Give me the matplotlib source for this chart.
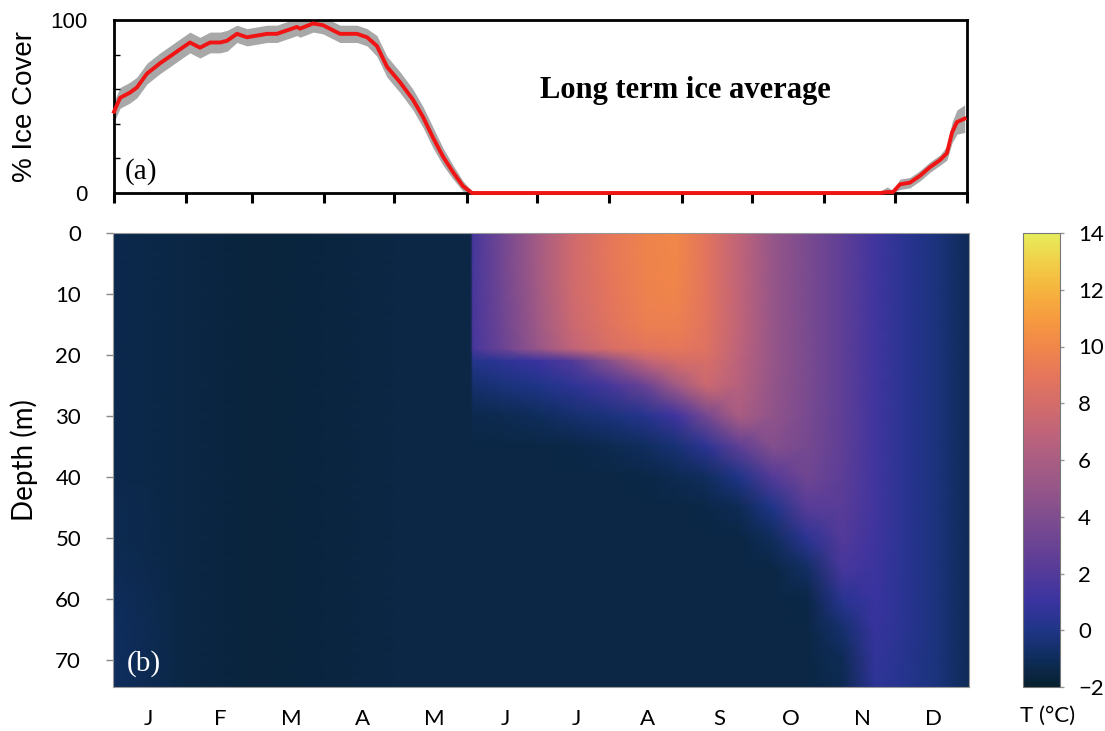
import numpy as np
import matplotlib
matplotlib.use("Agg")
import matplotlib.pyplot as plt
from matplotlib.colors import LinearSegmentedColormap

# ---------------- data ----------------
# (a) long term ice cover, % (day of year)
ice_day = [0, 2.6, 6.8, 9.8, 14.1, 19.7, 24, 28.2, 32.5, 36.8, 41.1, 45.4, 48.4,
           52.6, 56.9, 61.2, 65.5, 69.7, 74, 78.3, 79.6, 85.2, 89.4, 96.7, 104,
           108.3, 112.5, 116.8, 122.4, 127.9, 132.2, 136.5, 140.8, 145.1, 149.3,
           153.2, 200, 260, 327.8, 330.8, 333.3, 336.3, 340.6, 344.9, 349.2,
           353.4, 356.4, 358.6, 360.7, 364]
ice_pct = [47, 55, 58, 61, 69, 75, 79, 83, 87, 84, 87, 87, 88,
           92, 90, 91, 92, 92, 94, 96, 95, 98, 97, 92, 92,
           90, 85, 73, 64, 54, 44, 32, 21, 12, 4,
           0, 0, 0, 0, 0.5, 0.5, 5, 6, 10, 15,
           19, 23, 35, 41, 43]
ice_sd = [6, 6, 6, 6, 6, 6, 6, 6, 6, 6, 6, 6, 6,
          5, 5, 5, 5, 5, 5, 5, 5, 5, 5, 5, 5,
          5, 6, 6, 6, 6, 6, 6, 5, 4, 3,
          1, 0, 0, 1, 3, 1, 3, 3, 3, 3,
          3, 4, 6, 7, 8]

# (b) temperature profiles (deg C): one profile per day, values at the depths below
depths = [0, 5, 10, 15, 19, 21, 25, 30, 35, 40, 45, 50, 55, 60, 65, 70, 74.5]
prof_day = [0, 30, 60, 90, 120, 152.5, 153.5, 166, 181, 196, 212, 227, 240,
            253, 267, 281, 296, 311, 325, 338, 352, 365]
profiles = [
    [-1.3, -1.3, -1.3, -1.3, -1.3, -1.3, -1.3, -1.3, -1.3, -1.3, -1.2, -1.2, -1.1, -1.0, -0.9, -0.9, -0.9],
    [-1.5] * 17,
    [-1.65] * 17,
    [-1.6] * 17,
    [-1.5] * 17,
    [-1.45] * 17,
    [1.5, 1.5, 1.6, 1.6, 1.5, 0.2, -0.6, -1.3, -1.5, -1.5, -1.5, -1.5, -1.5, -1.5, -1.5, -1.5, -1.5],
    [3.4, 3.4, 3.3, 3.2, 3.0, 0.5, -0.3, -1.2, -1.5, -1.5, -1.5, -1.5, -1.5, -1.5, -1.5, -1.5, -1.5],
    [5.7, 5.7, 5.6, 5.4, 5.0, 1.0, 0.0, -1.0, -1.5, -1.5, -1.5, -1.5, -1.5, -1.5, -1.5, -1.5, -1.5],
    [7.8, 7.8, 7.7, 7.5, 7.0, 2.0, 0.6, -0.6, -1.4, -1.5, -1.5, -1.5, -1.5, -1.5, -1.5, -1.5, -1.5],
    [9.0, 9.0, 8.9, 8.7, 8.2, 4.5, 1.5, -0.2, -1.2, -1.5, -1.5, -1.5, -1.5, -1.5, -1.5, -1.5, -1.5],
    [9.8, 9.8, 9.7, 9.5, 8.8, 7.0, 3.0, 0.3, -0.9, -1.4, -1.5, -1.5, -1.5, -1.5, -1.5, -1.5, -1.5],
    [10.0, 10.0, 9.9, 9.6, 9.0, 8.0, 5.5, 1.2, -0.4, -1.2, -1.5, -1.5, -1.5, -1.5, -1.5, -1.5, -1.5],
    [8.8, 8.8, 8.8, 8.7, 8.5, 8.2, 7.5, 3.5, 0.5, -0.9, -1.4, -1.5, -1.5, -1.5, -1.5, -1.5, -1.5],
    [7.0, 7.0, 7.0, 7.0, 6.9, 6.8, 6.6, 6.0, 2.5, 0.0, -1.1, -1.5, -1.5, -1.5, -1.5, -1.5, -1.5],
    [5.0, 5.0, 5.0, 5.0, 5.0, 5.0, 4.9, 4.8, 4.2, 2.0, 0.0, -1.0, -1.5, -1.5, -1.5, -1.5, -1.5],
    [3.8, 3.8, 3.8, 3.8, 3.8, 3.8, 3.8, 3.7, 3.6, 3.3, 2.2, 0.5, -0.8, -1.4, -1.5, -1.5, -1.5],
    [2.5, 2.5, 2.5, 2.5, 2.5, 2.5, 2.5, 2.5, 2.5, 2.4, 2.3, 2.0, 1.5, 0.4, -0.6, -1.1, -1.2],
    [1.3, 1.3, 1.3, 1.3, 1.3, 1.3, 1.3, 1.3, 1.3, 1.3, 1.3, 1.2, 1.1, 1.0, 0.9, 0.7, 0.6],
    [0.4, 0.4, 0.4, 0.4, 0.4, 0.4, 0.4, 0.4, 0.4, 0.4, 0.4, 0.4, 0.4, 0.4, 0.4, 0.3, 0.3],
    [-0.3] * 17,
    [-1.1] * 17,
]

month_starts = [0, 31, 59, 90, 120, 151, 181, 212, 243, 273, 304, 334, 365]
month_labels = ["J", "F", "M", "A", "M", "J", "J", "A", "S", "O", "N", "D"]
cbar_ticks = [-2, 0, 2, 4, 6, 8, 10, 12, 14]

# colour scale (thermal-like), value -> colour
cmap_vals = [-2, -1, 0, 1, 2, 3, 4, 5, 6, 7, 8, 9, 10, 11, 12, 13, 14]
cmap_cols = ["#06202e", "#0f2d5c", "#1f3588", "#3a33a0", "#533a99", "#6a4394",
             "#7f4d8e", "#965689", "#a95d82", "#c0647a", "#d46d6a", "#e6765b",
             "#f1864a", "#f69b3f", "#f6b33e", "#f1cf48", "#e6ec5c"]
cmap = LinearSegmentedColormap.from_list(
    "thermal_like", [((v + 2) / 16, c) for v, c in zip(cmap_vals, cmap_cols)])

W, H = 1105, 731
fig = plt.figure(figsize=(W / 100, H / 100), dpi=100)
ax1 = fig.add_axes([114 / W, 1 - 193 / H, 853 / W, 173 / H])
ax2 = fig.add_axes([113 / W, 1 - 687 / H, 856 / W, 454 / H])
cax = fig.add_axes([1023 / W, 1 - 687 / H, 37 / W, 454 / H])

sans = "Liberation Sans"
lato = "Lato"
serif = "Liberation Serif"

# ---------------- (a) ice cover ----------------
ice = np.array(ice_pct, dtype=float)
sd = np.array(ice_sd, dtype=float)
ax1.fill_between(ice_day, np.clip(ice - sd, 0, None), ice + sd,
                 color="#a8a8a8", lw=0)
ax1.plot(ice_day, ice, color="#f01414", lw=2.8, clip_on=False, zorder=5)
ax1.set_xlim(0, 365)
ax1.set_ylim(0, 100)
ax1.set_xticks(month_starts)
ax1.set_xticklabels([])
ax1.tick_params(axis="x", direction="out", length=7, width=2.2)
ax1.set_yticks([0, 100])
ax1.set_yticklabels(["0", "100"], fontsize=16, family=sans)
ax1.set_yticks([20, 40, 60, 80], minor=True)
ax1.tick_params(axis="y", which="major", length=0, pad=19)
ax1.tick_params(axis="y", which="minor", direction="in", length=4, width=1)
for s in ax1.spines.values():
    s.set_linewidth(2)
ax1.set_ylabel("% Ice Cover", fontsize=20, family=sans)
ax1.yaxis.set_label_coords((38 - 114) / 853, 0.5)
ax1.text(182.3, 55, "Long term ice average", fontsize=22, family=serif,
         fontweight="bold", ha="left", va="baseline")
ax1.text(0.013, 0.08, "(a)", transform=ax1.transAxes, fontsize=21,
         family=serif, ha="left", va="baseline")

# ---------------- (b) temperature section ----------------
T = np.array(profiles).T
mesh = ax2.pcolormesh(prof_day, depths, T, shading="gouraud", cmap=cmap,
                      vmin=-2, vmax=14, rasterized=True)
ax2.set_xlim(0, 365)
ax2.set_ylim(74.5, 0)
mid = [(i + 0.5) * 365 / 12 for i in range(12)]
ax2.set_xticks(mid)
ax2.set_xticklabels(month_labels, fontsize=16, family=lato)
ax2.tick_params(axis="x", length=0, pad=16)
ax2.set_yticks(range(0, 71, 10))
ax2.set_yticklabels([str(v) for v in range(0, 71, 10)], fontsize=16, family=lato)
ax2.tick_params(axis="y", length=5, width=1, color="#888888", pad=18)
for s in ax2.spines.values():
    s.set_linewidth(0.8)
    s.set_color("#999999")
ax2.set_ylabel("Depth (m)", fontsize=20, family=lato)
ax2.yaxis.set_label_coords((38 - 113) / 856, 0.5)
ax2.text(0.016, 0.036, "(b)", transform=ax2.transAxes, fontsize=21,
         family=serif, color="white", ha="left", va="baseline")

cb = fig.colorbar(mesh, cax=cax, ticks=cbar_ticks)
cb.outline.set_linewidth(0.8)
cb.outline.set_edgecolor("#777777")
cax.tick_params(length=3, width=1, color="#999999", pad=10)
for t in cax.get_yticklabels():
    t.set_fontsize(16)
    t.set_family(lato)
fig.text(1048 / W, 1 - 716 / H, "T (°C)", fontsize=16, family=lato,
         ha="center", va="center")

fig.savefig("out.png", dpi=100)
